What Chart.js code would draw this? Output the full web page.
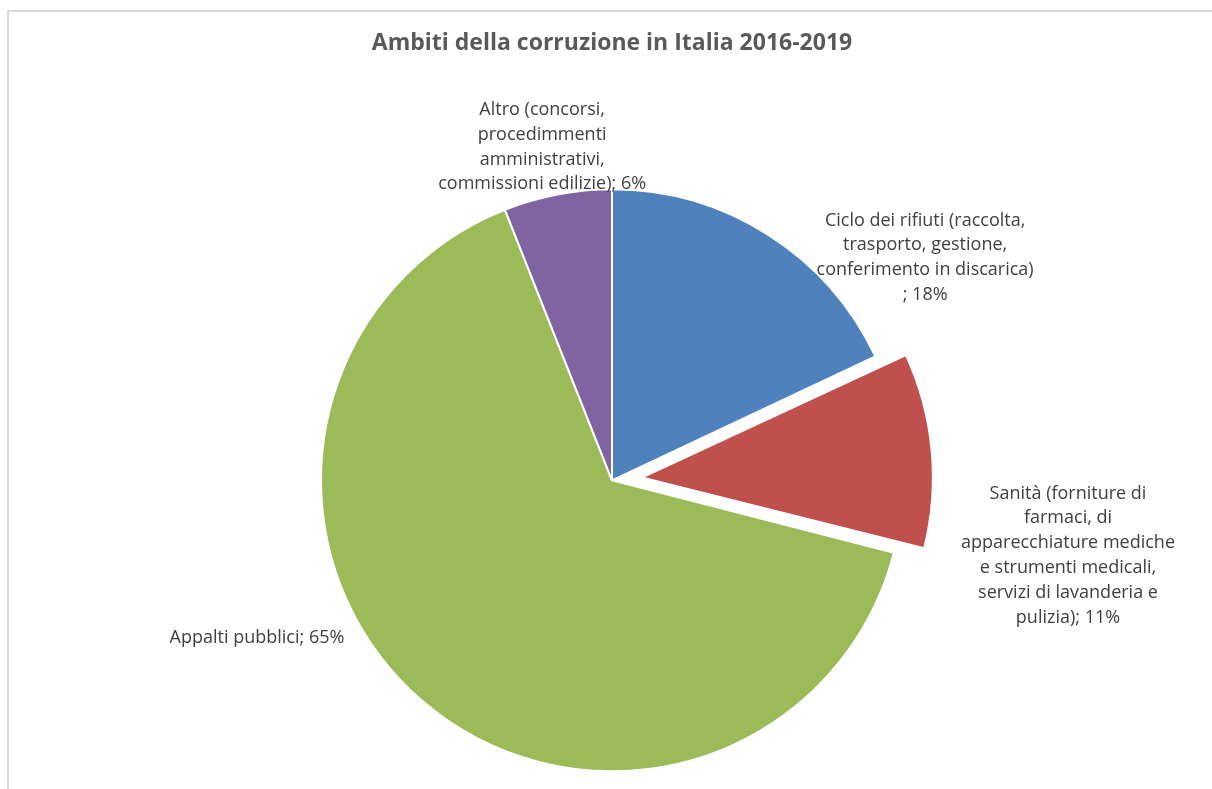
<!DOCTYPE html>
<html lang="it">
<head>
<meta charset="utf-8">
<title>Ambiti della corruzione in Italia 2016-2019</title>
<script src="https://cdn.jsdelivr.net/npm/chart.js@4/dist/chart.umd.min.js"></script>
<style>
  html, body { margin: 0; padding: 0; background: #fff; overflow: hidden; }
  #wrap { position: relative; width: 1212px; height: 789px; }
</style>
</head>
<body>
<div id="wrap"><canvas id="pieChart" width="1212" height="789"></canvas></div>
<script>
const categories = [
  "Ciclo dei rifiuti (raccolta, trasporto, gestione, conferimento in discarica)",
  "Sanità (forniture di farmaci, di apparecchiature mediche e strumenti medicali, servizi di lavanderia e pulizia)",
  "Appalti pubblici",
  "Altro (concorsi, procedimmenti amministrativi, commissioni edilizie)"
];
const shares = [18, 11, 65, 6];
const colors = ["#4F81BD", "#C0504D", "#9BBB59", "#8064A2"];
// arc offset (Chart.js moves a slice by offset / 4)
const explode = [0, 120, 0, 0];

// label lines as wrapped in the data labels
const labelLines = [
  ["Ciclo dei rifiuti (raccolta,", "trasporto, gestione,", "conferimento in discarica)", "; 18%"],
  ["Sanità (forniture di", "farmaci, di", "apparecchiature mediche", "e strumenti medicali,", "servizi di lavanderia e", "pulizia); 11%"],
  ["Appalti pubblici; 65%"],
  ["Altro (concorsi,", "procedimmenti", "amministrativi,", "commissioni edilizie); 6%"]
];
// where each label block sits, relative to the pie centre (in radii)
const labelAt = [[1.076, -0.765], [1.567, 0.258], [-1.22, 0.543], [-0.24, -1.145]];

const FONT = "'Open Sans', 'DejaVu Sans', sans-serif";

const framePlugin = {
  id: "frame",
  beforeDraw(chart) {
    const ctx = chart.ctx;
    ctx.save();
    ctx.strokeStyle = "#d9d9d9";
    ctx.lineWidth = 2;
    ctx.beginPath();
    ctx.moveTo(8, chart.height);
    ctx.lineTo(8, 11);
    ctx.lineTo(chart.width, 11);
    ctx.stroke();
    ctx.restore();
  }
};

// Chart.js grows an offset arc's radius a bit; keep exploded slices at the pie radius
const keepRadiusPlugin = {
  id: "keepRadius",
  afterDatasetsUpdate(chart) {
    chart.getDatasetMeta(0).data.forEach((arc, i) => {
      const off = (explode[i] || 0) / 4;
      if (!off) return;
      const circ = arc.endAngle - arc.startAngle;
      arc.outerRadius -= off * (1 - Math.sin(Math.min(Math.PI, circ)));
    });
  }
};

const labelPlugin = {
  id: "sliceLabels",
  afterDatasetsDraw(chart) {
    const ctx = chart.ctx;
    const meta = chart.getDatasetMeta(0);
    const arc0 = meta.data[0];
    const cx = arc0.x, cy = arc0.y, r = arc0.outerRadius;
    const lh = 24.8;
    ctx.save();
    ctx.fillStyle = "#404040";
    ctx.font = "18px " + FONT;
    ctx.textAlign = "center";
    ctx.textBaseline = "middle";
    labelLines.forEach((lines, i) => {
      const x = cx + labelAt[i][0] * r;
      const y = cy + labelAt[i][1] * r - (lines.length - 1) * lh / 2;
      lines.forEach((t, k) => ctx.fillText(t, x, y + k * lh));
    });
    ctx.restore();
  }
};

new Chart(document.getElementById("pieChart"), {
  type: "pie",
  data: {
    labels: categories,
    datasets: [{
      data: shares,
      backgroundColor: colors,
      borderColor: "#ffffff",
      borderWidth: 2,
      offset: explode
    }]
  },
  options: {
    responsive: false,
    animation: false,
    events: [],
    radius: 291,
    layout: { padding: { left: 12, right: 0, top: 0, bottom: 0 } },
    plugins: {
      legend: { display: false },
      tooltip: { enabled: false },
      title: {
        display: true,
        text: "Ambiti della corruzione in Italia 2016-2019",
        color: "#595959",
        font: { family: FONT, size: 23, weight: "bold", lineHeight: 1.2 },
        padding: { top: 30, bottom: 114 }
      }
    }
  },
  plugins: [framePlugin, keepRadiusPlugin, labelPlugin]
});
</script>
</body>
</html>
